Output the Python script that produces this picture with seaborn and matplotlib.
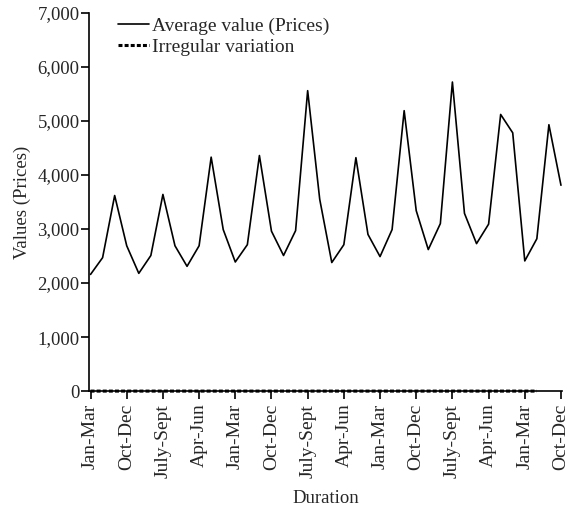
import numpy as np
import pandas as pd
import matplotlib
matplotlib.use("Agg")
import matplotlib.pyplot as plt
import matplotlib.ticker as mticker
import seaborn as sns

# quarterly prices (40 quarters)
quarters = ["Jan-Mar", "Apr-Jun", "July-Sept", "Oct-Dec"] * 10
prices = [2160, 2470, 3620, 2690, 2180, 2510, 3640, 2690, 2310, 2690,
          4330, 2990, 2390, 2710, 4360, 2960, 2510, 2970, 5560, 3550,
          2380, 2710, 4320, 2900, 2490, 2990, 5190, 3340, 2620, 3100,
          5720, 3290, 2730, 3090, 5120, 4780, 2410, 2820, 4930, 3810]
# irregular component (ratio, sits on the zero line at this scale)
irregular = [1.01, 0.99, 1.02, 0.98, 1.00, 1.01, 0.99, 1.00, 1.02, 0.98,
             1.01, 1.00, 0.99, 1.01, 1.00, 0.98, 1.02, 1.00, 0.99, 1.01,
             1.00, 0.99, 1.01, 1.00, 0.98, 1.02, 1.00, 0.99, 1.01, 1.00,
             0.99, 1.01, 1.00, 1.00, 0.99, 1.01, 1.00, 0.99]

df = pd.DataFrame({"t": np.arange(len(prices)), "price": prices})
df_irr = pd.DataFrame({"t": np.arange(len(irregular)), "irr": irregular})

sns.set_style("ticks")
plt.rcParams['font.family'] = ['Liberation Serif', 'DejaVu Serif']

fig = plt.figure(figsize=(5.69, 5.14), dpi=100)
ax = fig.add_axes([0.157, 0.239, 0.831, 0.736])

sns.lineplot(data=df, x="t", y="price", ax=ax, color="black", linewidth=1.2,
             label="Average value (Prices)")
sns.lineplot(data=df_irr, x="t", y="irr", ax=ax, color="black", linewidth=2.2,
             linestyle=(0, (1.3, 0.7)), label="Irregular variation",
             clip_on=False, zorder=4)

ax.set_xlim(-0.1, 39.1)
ax.set_ylim(0, 7000)
ax.set_xticks(df["t"][::3])
ax.set_xticklabels(quarters[::3], rotation=90, fontsize=14)
ax.yaxis.set_major_locator(mticker.MultipleLocator(1000))
ax.yaxis.set_major_formatter(mticker.StrMethodFormatter("{x:,.0f}"))
ax.tick_params(axis="y", labelsize=13.5, length=6, width=1.2, pad=1, color="black")
ax.tick_params(axis="x", length=6, width=1.2, pad=3, color="black")

for s in ["top", "right"]:
    ax.spines[s].set_visible(False)
for s in ["left", "bottom"]:
    ax.spines[s].set_linewidth(1.2)
    ax.spines[s].set_color("black")

ax.set_xlabel("Duration", fontsize=13.5, labelpad=9)
ax.set_ylabel("Values (Prices)", fontsize=13.5, labelpad=5)

ax.legend(loc="upper left", frameon=False, fontsize=14, handlelength=1.55,
          handletextpad=0.2, labelspacing=0.2, borderaxespad=0.0,
          bbox_to_anchor=(0.045, 1.01))

fig.savefig("out.png", dpi=100)
